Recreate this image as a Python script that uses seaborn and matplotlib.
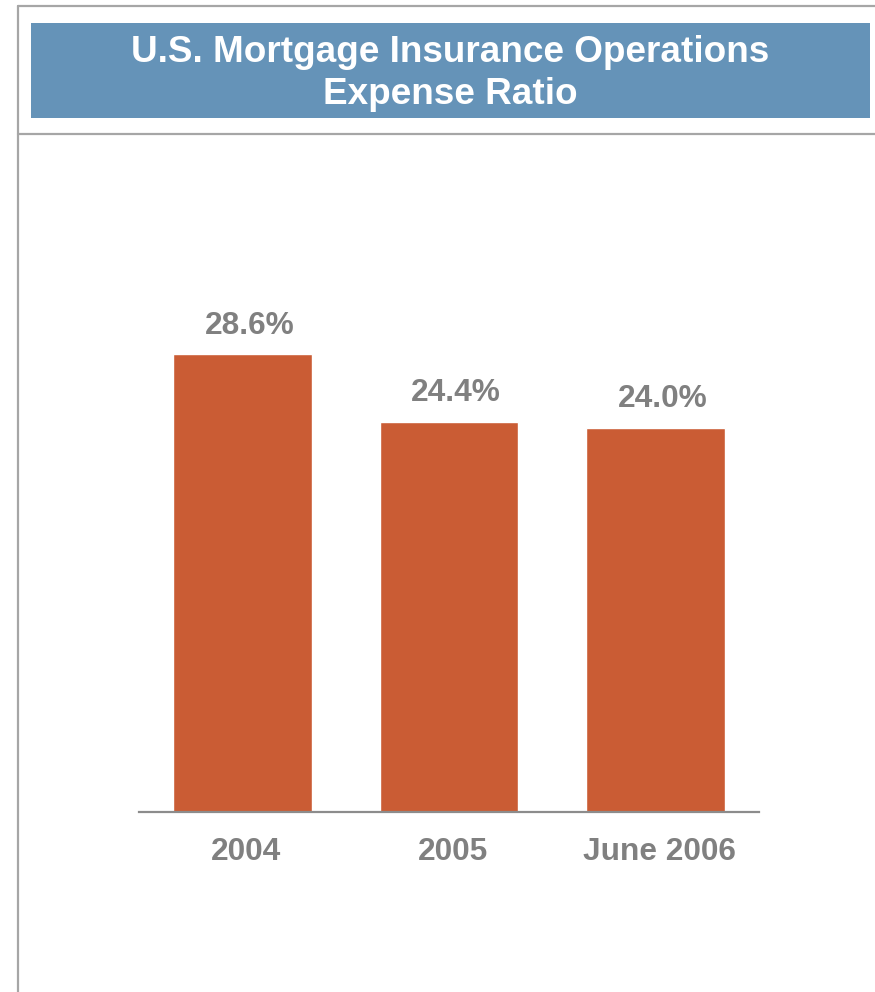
import matplotlib
matplotlib.use("Agg")
import matplotlib.pyplot as plt
import matplotlib.transforms as mtransforms
from matplotlib.patches import Rectangle
from matplotlib.lines import Line2D
import seaborn as sns
import pandas as pd

# ---- data ----
categories = ["2004", "2005", "June 2006"]
expense_ratio = [28.6, 24.4, 24.0]
value_labels = ["28.6%", "24.4%", "24.0%"]
title_text = "U.S. Mortgage Insurance Operations\nExpense Ratio"

sns.set_style("white")
plt.rcParams['font.family'] = ['Liberation Sans', 'DejaVu Sans']

W, H = 875, 992
fig = plt.figure(figsize=(W / 100, H / 100), dpi=100)

BAR = "#CA5C34"
GRAY_TXT = "#808080"
BLUE = "#6593B8"
BORDER = "#A6A6A6"

# frame lines (figure coords)
def fx(px): return px / W
def fy(py): return 1 - py / H

fig.add_artist(Line2D([fx(18), fx(18)], [fy(6), fy(992)], color=BORDER, lw=1.6))
fig.add_artist(Line2D([fx(18), fx(875)], [fy(6), fy(6)], color=BORDER, lw=1.6))
fig.add_artist(Line2D([fx(18), fx(875)], [fy(134), fy(134)], color=BORDER, lw=1.6))

# title box
fig.add_artist(Rectangle((fx(31), fy(118)), fx(870) - fx(31), fy(23) - fy(118),
                         transform=fig.transFigure, facecolor=BLUE, edgecolor="none"))
fig.text(fx(450), fy(73.5), title_text, ha="center", va="center", color="white",
         fontsize=26.6, fontweight="bold", linespacing=1.24)

# axes
left, right, bottom, top = 139, 759, 812, 150
ax = fig.add_axes([fx(left), fy(bottom), fx(right) - fx(left), fy(top) - fy(bottom)])
df = pd.DataFrame({"cat": categories, "val": expense_ratio})
sns.barplot(data=df, x="cat", y="val", color=BAR, width=0.67, saturation=1, ax=ax)
ax.set_xlim(-0.5, 2.5)
ax.set_ylim(0, (bottom - top) / 16.0)
for c in ax.containers:
    anns = ax.bar_label(c, labels=value_labels, padding=10, color=GRAY_TXT,
                        fontsize=22.8, fontweight="bold")
    for a in anns:
        a.xyann = (5, 10)

for s in ["top", "left", "right"]:
    ax.spines[s].set_visible(False)
ax.spines["bottom"].set_color("#8C8C8C")
ax.spines["bottom"].set_linewidth(1.6)
ax.set_yticks([])
ax.set_xlabel("")
ax.set_ylabel("")
ax.tick_params(axis="x", length=0, pad=18, labelsize=22.8, labelcolor=GRAY_TXT)
shift = mtransforms.ScaledTranslation(4 / 100, 0, fig.dpi_scale_trans)
for t in ax.get_xticklabels():
    t.set_fontweight("bold")
    t.set_transform(t.get_transform() + shift)
ax.patch.set_alpha(0)

fig.savefig("out.png", dpi=100)
